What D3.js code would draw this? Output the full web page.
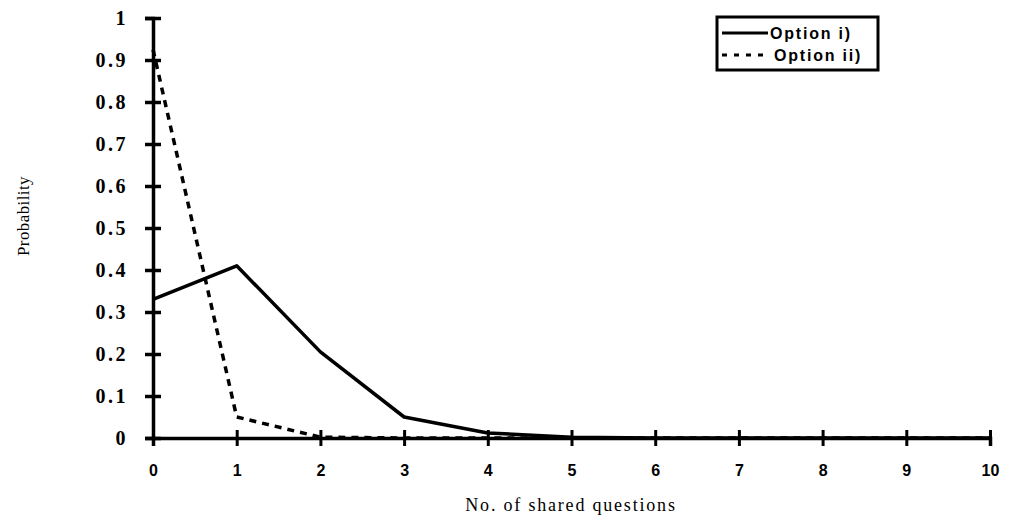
<!DOCTYPE html>
<html>
<head>
<meta charset="utf-8">
<script src="https://cdn.jsdelivr.net/npm/d3@7"></script>
<style>
  body { margin: 0; background: #fff; }
  svg { display: block; }
</style>
</head>
<body>
<svg id="chart" width="1013" height="519"></svg>
<script>
// shared questions on x, probability on y
var questions = [0, 1, 2, 3, 4, 5, 6, 7, 8, 9, 10];
var optionI  = [0.33, 0.41, 0.205, 0.05, 0.012, 0.002, 0, 0, 0, 0, 0];
var optionII = [0.925, 0.05, 0.002, 0, 0, 0, 0, 0, 0, 0, 0];
var yTicks = [0, 0.1, 0.2, 0.3, 0.4, 0.5, 0.6, 0.7, 0.8, 0.9, 1];
var seriesNames = ["Option i)", "Option ii)"];

var svg = d3.select("#chart");

var x = d3.scaleLinear().domain([0, 10]).range([153, 990]);
var y = d3.scaleLinear().domain([0, 1]).range([438, 18]);

var line = d3.line()
    .x(function(d, i) { return x(questions[i]); })
    .y(function(d) { return y(d); });

// series
svg.append("path")
    .attr("d", line(optionII))
    .attr("fill", "none")
    .attr("stroke", "#000")
    .attr("stroke-width", 3.5)
    .attr("stroke-dasharray", "7,6");

svg.append("path")
    .attr("d", line(optionI))
    .attr("fill", "none")
    .attr("stroke", "#000")
    .attr("stroke-width", 3.5)
    .attr("stroke-linejoin", "round");

// y axis
var yAxis = d3.axisLeft(y)
    .tickValues(yTicks)
    .tickSize(8)
    .tickPadding(17)
    .tickFormat(function(d) { return d === 0 || d === 1 ? d : d3.format(".1f")(d); });

var gy = svg.append("g")
    .attr("transform", "translate(" + x(0) + ",0)")
    .call(yAxis);
gy.select(".domain").attr("stroke-width", 3.5);
gy.selectAll(".tick line")
    .attr("x1", 8).attr("x2", -8)
    .attr("stroke-width", 3.5);
gy.selectAll("text")
    .attr("font-family", "'Liberation Serif', 'Times New Roman', serif")
    .attr("font-weight", "bold")
    .attr("font-size", 20)
    .attr("letter-spacing", 2.5)
    .attr("fill", "#000");

// x axis
var xAxis = d3.axisBottom(x)
    .tickValues(questions)
    .tickSize(8)
    .tickPadding(19);

var gx = svg.append("g")
    .attr("transform", "translate(0," + y(0) + ")")
    .call(xAxis);
gx.select(".domain").attr("stroke-width", 3.5);
gx.selectAll(".tick line")
    .attr("y1", -8).attr("y2", 8)
    .attr("stroke-width", 3);
gx.selectAll("text")
    .attr("font-family", "'Liberation Sans', Arial, sans-serif")
    .attr("font-weight", "bold")
    .attr("font-size", 16)
    .attr("fill", "#000");

// axis titles
svg.append("text")
    .attr("transform", "translate(29,216) rotate(-90)")
    .attr("text-anchor", "middle")
    .attr("font-family", "'Liberation Serif', 'Times New Roman', serif")
    .attr("font-size", 17)
    .attr("letter-spacing", 0.4)
    .text("Probability");

svg.append("text")
    .attr("x", 571)
    .attr("y", 511)
    .attr("text-anchor", "middle")
    .attr("font-family", "'Liberation Serif', 'Times New Roman', serif")
    .attr("font-size", 18)
    .attr("letter-spacing", 1.8)
    .text("No. of shared questions");

// legend
var legend = svg.append("g").attr("transform", "translate(717,17)");
legend.append("rect")
    .attr("width", 161).attr("height", 53)
    .attr("fill", "#fff")
    .attr("stroke", "#000")
    .attr("stroke-width", 3);

var dashes = [null, "5,7"];
var textX = [53, 57];
seriesNames.forEach(function(name, i) {
    var yy = 16 + i * 22;
    legend.append("line")
        .attr("x1", 5).attr("x2", 51)
        .attr("y1", yy).attr("y2", yy)
        .attr("stroke", "#000")
        .attr("stroke-width", 3)
        .attr("stroke-dasharray", dashes[i]);
    legend.append("text")
        .attr("x", textX[i])
        .attr("y", yy + 6)
        .attr("font-family", "'Liberation Sans', Arial, sans-serif")
        .attr("font-weight", "bold")
        .attr("font-size", 16)
        .attr("letter-spacing", 1.8)
        .text(name);
});
</script>
</body>
</html>
